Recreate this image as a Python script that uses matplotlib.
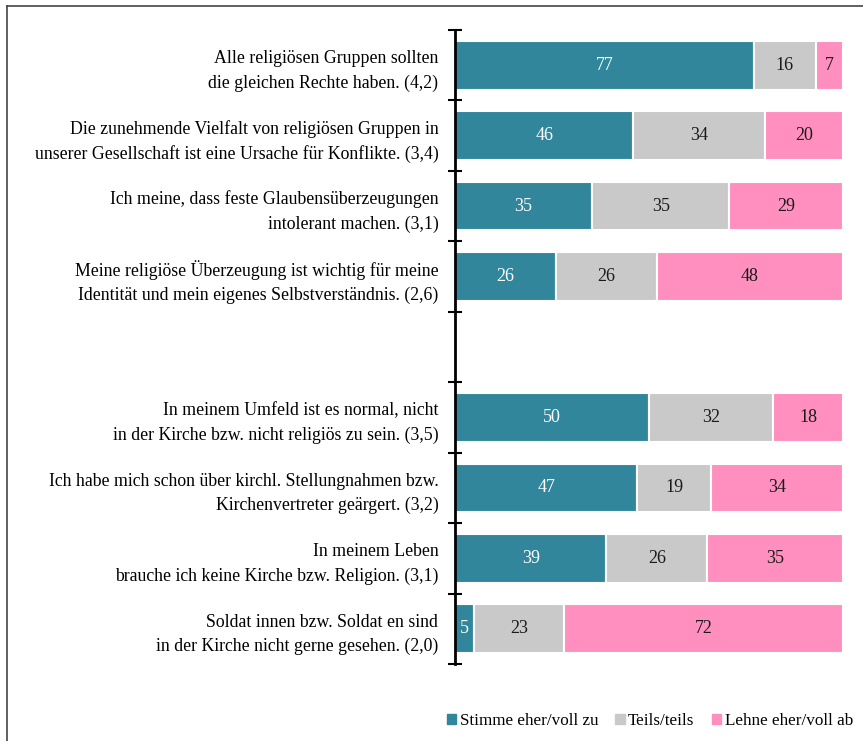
import matplotlib
matplotlib.use("Agg")
import matplotlib.pyplot as plt
import matplotlib.patches as mpatches
from matplotlib.lines import Line2D
import numpy as np

plt.rcParams['font.family'] = ['Liberation Serif', 'DejaVu Serif']

labels = [
    "Alle religiösen Gruppen sollten\ndie gleichen Rechte haben. (4,2)",
    "Die zunehmende Vielfalt von religiösen Gruppen in\nunserer Gesellschaft ist eine Ursache für Konflikte. (3,4)",
    "Ich meine, dass feste Glaubensüberzeugungen\nintolerant machen. (3,1)",
    "Meine religiöse Überzeugung ist wichtig für meine\nIdentität und mein eigenes Selbstverständnis. (2,6)",
    "",
    "In meinem Umfeld ist es normal, nicht\nin der Kirche bzw. nicht religiös zu sein. (3,5)",
    "Ich habe mich schon über kirchl. Stellungnahmen bzw.\nKirchenvertreter geärgert. (3,2)",
    "In meinem Leben\nbrauche ich keine Kirche bzw. Religion. (3,1)",
    "Soldat innen bzw. Soldat en sind\nin der Kirche nicht gerne gesehen. (2,0)",
]
zu = [77, 46, 35, 26, None, 50, 47, 39, 5]
teils = [16, 34, 35, 26, None, 32, 19, 26, 23]
ab = [7, 20, 29, 48, None, 18, 34, 35, 72]

series_names = ["Stimme eher/voll zu", "Teils/teils", "Lehne eher/voll ab"]
colors = ["#31869B", "#C9C9C9", "#FF8FBF"]
text_colors = ["white", "#1a1a1a", "#1a1a1a"]

fig = plt.figure(figsize=(8.63, 7.41), dpi=100)
ax = fig.add_axes([455/863, 1 - 664/741, 388/863, (664 - 30)/741])

n = len(labels)
y = np.arange(n)
for i in range(n):
    if zu[i] is None:
        continue
    total = zu[i] + teils[i] + ab[i]
    left = 0
    for vals, c, tc in zip([zu, teils, ab], colors, text_colors):
        v = vals[i]
        w = v / total * 100  # 100%-Balken
        ax.barh(y[i], w, left=left, height=0.69, color=c, edgecolor="white", linewidth=1.5)
        ax.text(left + w / 2, y[i], str(v), ha="center", va="center",
                color=tc, fontsize=13)
        left += w

ax.set_xlim(0, 100)
ax.set_ylim(n - 0.5, -0.5)
ax.set_yticks(y)
ax.set_yticklabels(labels, fontsize=12.8, linespacing=1.55)
ax.set_yticks(np.arange(-0.5, n, 1), minor=True)
ax.tick_params(axis="y", which="major", length=0, pad=12)
ax.tick_params(axis="y", which="minor", length=10, width=1.5, direction="inout", color="black")
ax.set_xticks([])
for s in ["top", "right", "bottom"]:
    ax.spines[s].set_visible(False)
ax.spines["left"].set_linewidth(2)
ax.spines["left"].set_color("black")

handles = [mpatches.Patch(color=c, label=l) for c, l in zip(colors, series_names)]
fig.legend(handles=handles, loc="center right", bbox_to_anchor=(1.0, 1 - 721/741),
           ncol=3, frameon=False, fontsize=12.3, handlelength=0.55, handleheight=0.55,
           handletextpad=0.2, columnspacing=1.0, borderaxespad=0.2)

# Rahmen (links und oben)
fig.add_artist(Line2D([7/863, 7/863], [0, 1 - 6/741], color="#444444", linewidth=1.2))
fig.add_artist(Line2D([7/863, 1], [1 - 6/741, 1 - 6/741], color="#444444", linewidth=1.2))

fig.savefig("out.png", dpi=100)
plt.close()
